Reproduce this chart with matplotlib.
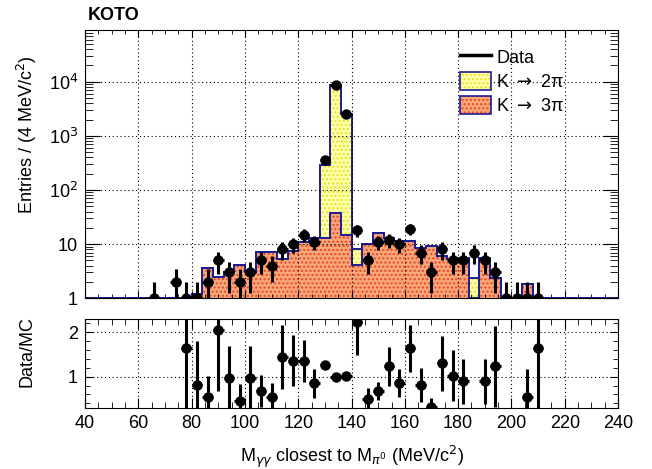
import numpy as np
import matplotlib.pyplot as plt
from matplotlib.ticker import MultipleLocator, LogLocator, FixedLocator, FuncFormatter, NullFormatter
from matplotlib.lines import Line2D
from matplotlib.patches import Patch

plt.rcParams['font.family'] = ['Liberation Sans', 'DejaVu Sans']
plt.rcParams['mathtext.fontset'] = 'dejavusans'

# 4 MeV bins from 40 to 240 MeV
bin_edges = np.arange(40, 241, 4)

# observed events per bin
data = [0, 0, 0, 0, 0, 0, 1, 0, 2, 1,
        1, 2, 5, 3, 2, 3, 5, 4, 8, 10,
        15, 11, 360, 8600, 2500, 18, 5, 11, 12, 10,
        19, 7, 3, 8, 5, 5, 7, 5, 3, 1,
        1, 1, 1, 0, 0, 0, 0, 0, 0, 0]

# MC: K -> 3pi
k3pi = [0, 0, 0, 0, 0, 0, 0, 0, 0, 0.61,
        1.2, 3.7, 2.44, 3.1, 4.2, 3.1, 7.2, 7.3, 5.4, 7.4,
        10.8, 12.8, 12.8, 38, 14.7, 4.2, 10, 16.2, 13, 11.5,
        11.5, 8.4, 9.2, 6.0, 5.3, 5.5, 0, 5.5, 2.4, 0,
        0, 1.8, 0.61, 0, 0, 0, 0, 0, 0, 0]

# MC: K -> 2pi
k2pi = [0] * 22 + [275, 8560, 2485, 3.8] + [0] * 10 + [2.4] + [0] * 13

# Data/MC ratio
ratio_x = [78, 82, 86, 90, 94, 98, 102, 106, 110, 114, 118, 122, 126, 130, 134, 138,
           142, 146, 150, 154, 158, 162, 166, 170, 174, 178, 182, 190, 194, 206, 210]
ratio = [1.64, 0.81, 0.535, 2.05, 0.98, 0.46, 0.98, 0.68, 0.535, 1.45, 1.36, 1.36, 0.85,
         1.26, 1.0, 1.01, 2.24, 0.5, 0.68, 1.23, 0.86, 1.64, 0.81, 0.32, 1.30, 1.02,
         0.90, 0.90, 1.23, 0.535, 1.64]
ratio_err = [1.6, 1.0, 0.47, 1.37, 0.71, 0.37, 0.71, 0.36, 0.32, 0.72, 0.58, 0.47, 0.32,
             0.07, 0.02, 0.03, 0.75, 0.24, 0.21, 0.45, 0.32, 0.53, 0.38, 0.19, 0.62, 0.58,
             0.51, 0.51, 0.91, 0.63, 1.6]

data = np.array(data, dtype=float)
k3pi = np.array(k3pi, dtype=float)
k2pi = np.array(k2pi, dtype=float)
total = k3pi + k2pi
centers = 0.5 * (bin_edges[:-1] + bin_edges[1:])

yellow_face = '#ffffa8'
yellow_dots = '#e6e030'
orange_face = '#f8a878'
orange_dots = '#e8452a'
outline = '#1c1c96'

fig = plt.figure(figsize=(6.52, 4.69), dpi=100)
ax = fig.add_axes([0.1304, 0.364, 0.8175, 0.572])
axr = fig.add_axes([0.1304, 0.1307, 0.8175, 0.189])

# stacked MC
ax.stairs(total, bin_edges, baseline=1e-3, fill=True, facecolor=yellow_face,
          edgecolor=yellow_dots, hatch='....', linewidth=0)
ax.stairs(k3pi, bin_edges, baseline=1e-3, fill=True, facecolor=orange_face,
          edgecolor=orange_dots, hatch='....', linewidth=0)
ax.stairs(np.clip(k3pi, 1, None), bin_edges, baseline=None, color=outline, lw=1.4)
ax.stairs(np.clip(total, 1, None), bin_edges, baseline=None, color=outline, lw=1.4,
          clip_on=False)

# data
m = data > 0
ax.errorbar(centers[m], data[m], yerr=np.sqrt(data[m]), xerr=2, fmt='o', color='k',
            ms=6.5, elinewidth=2.2, capsize=0)

ax.set_yscale('log')
ax.set_xlim(40, 240)
ax.set_ylim(1, 9e4)
ax.yaxis.set_major_locator(FixedLocator([1, 10, 100, 1000, 10000]))
ax.yaxis.set_minor_locator(LogLocator(base=10, subs=np.arange(2, 10)))
ax.yaxis.set_minor_formatter(NullFormatter())
labels = {1: '1', 10: '10', 100: '10$^{2}$', 1000: '10$^{3}$', 10000: '10$^{4}$'}
ax.yaxis.set_major_formatter(FuncFormatter(lambda v, p: labels.get(int(round(v)), '')))
ax.xaxis.set_major_locator(MultipleLocator(20))
ax.xaxis.set_minor_locator(MultipleLocator(5))
ax.tick_params(axis='x', labelbottom=False)
ax.tick_params(which='both', direction='in', top=True, right=True, labelsize=13, pad=5)
ax.tick_params(axis='y', which='major', length=11)
ax.tick_params(axis='y', which='minor', length=5.5)
ax.tick_params(axis='x', which='major', length=5)
ax.tick_params(axis='x', which='minor', length=3)
ax.grid(True, which='major', color='k', ls=(0, (1, 2.5)), lw=0.8)
ax.set_axisbelow(False)

handles = [Line2D([], [], color='k', lw=2.5),
           (Patch(facecolor=yellow_face, edgecolor=yellow_dots, hatch='....', lw=0),
            Patch(facecolor='none', edgecolor=outline, lw=1.2)),
           (Patch(facecolor=orange_face, edgecolor=orange_dots, hatch='....', lw=0),
            Patch(facecolor='none', edgecolor=outline, lw=1.2))]
ax.legend(handles, ['Data', 'K $\\rightarrow$ 2\u03c0', 'K $\\rightarrow$ 3\u03c0'],
          loc='upper left', bbox_to_anchor=(0.69, 0.96), frameon=False, fontsize=13,
          handlelength=1.7, handleheight=1.1, handletextpad=0.3, labelspacing=0.3,
          borderaxespad=0)

# ratio pad
axr.errorbar(ratio_x, ratio, yerr=ratio_err, xerr=2, fmt='o', color='k', ms=6.5,
             elinewidth=2.2, capsize=0)
axr.set_xlim(40, 240)
axr.set_ylim(0.3, 2.3)
axr.xaxis.set_major_locator(MultipleLocator(20))
axr.xaxis.set_minor_locator(MultipleLocator(5))
axr.yaxis.set_major_locator(FixedLocator([1, 2]))
axr.yaxis.set_minor_locator(MultipleLocator(0.2))
axr.tick_params(which='both', direction='in', top=True, right=True, labelsize=13, pad=5)
axr.tick_params(axis='y', which='major', length=6)
axr.tick_params(axis='y', which='minor', length=3.5)
axr.tick_params(axis='x', which='major', length=7)
axr.tick_params(axis='x', which='minor', length=4)
axr.grid(True, which='major', color='k', ls=(0, (1, 2.5)), lw=0.8)

fig.text(0.135, 0.966, 'KOTO', fontsize=13, fontweight='bold', va='center', ha='left')
fig.text(0.041, 0.712, 'Entries / (4 MeV/c$^{2}$)', rotation=90, fontsize=13,
         ha='center', va='center')
fig.text(0.041, 0.25, 'Data/MC', rotation=90, fontsize=13, ha='center', va='center')
fig.text(0.54, 0.025, 'M$_{\\gamma\\gamma}$ closest to M$_{\\pi^{0}}$ (MeV/c$^{2}$)',
         fontsize=13, ha='center', va='center')

fig.savefig('out.png', dpi=100)
